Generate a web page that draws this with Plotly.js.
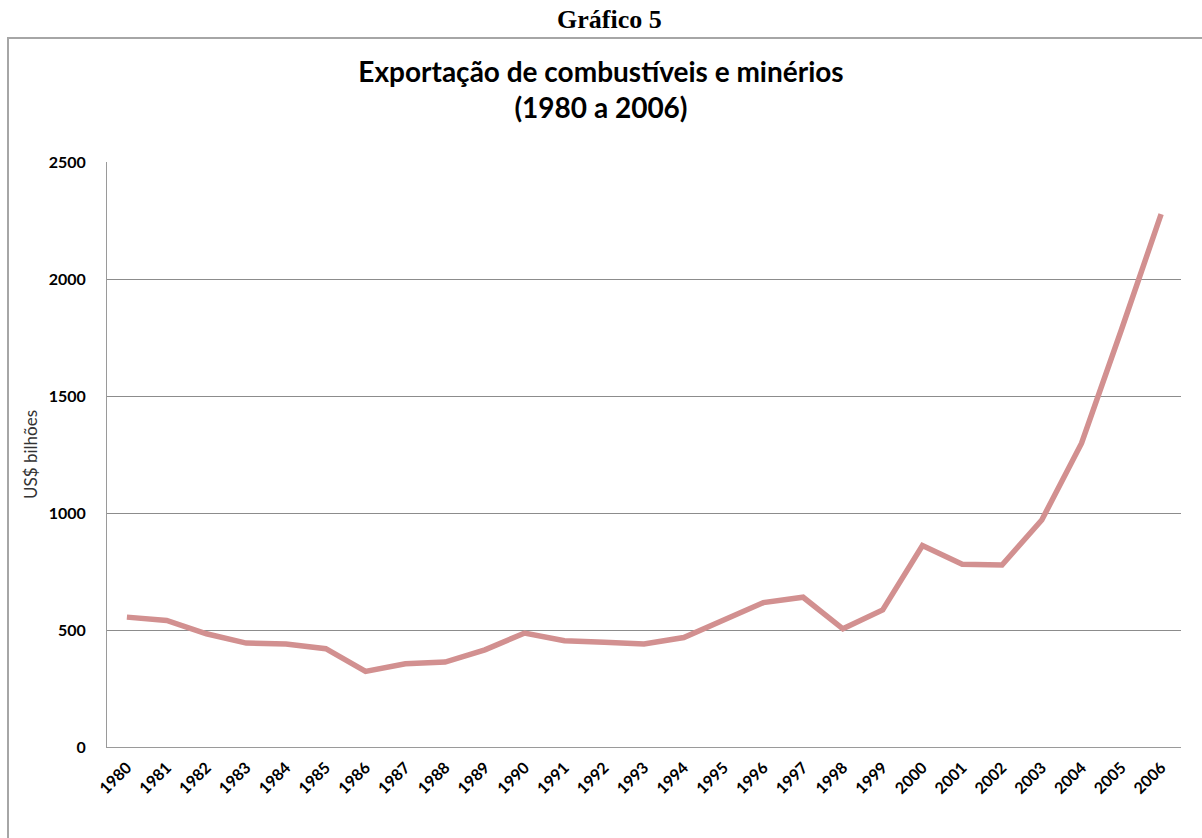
<!DOCTYPE html>
<html>
<head>
<meta charset="utf-8">
<script src="https://cdn.plot.ly/plotly-3.0.1.min.js"></script>
<style>
  html, body { margin: 0; padding: 0; background: #fff; }
  #chart { width: 1202px; height: 838px; }
</style>
</head>
<body>
<div id="chart"></div>
<script>
const years = ['1980','1981','1982','1983','1984','1985','1986','1987','1988','1989',
               '1990','1991','1992','1993','1994','1995','1996','1997','1998','1999',
               '2000','2001','2002','2003','2004','2005','2006'];
const exportsBn = [555, 541, 484, 444, 440, 420, 323, 356, 363, 415,
                   487, 454, 448, 440, 468, 543, 617, 640, 505, 586,
                   861, 781, 778, 970, 1298, 1782, 2277];
const yTicks = [0, 500, 1000, 1500, 2000, 2500];

const mainTitle = 'Exportação de combustíveis e minérios<br>(1980 a 2006)';
const header = 'Gráfico 5';
const yTitle = 'US$ bilhões';

const W = 1202, H = 838;
const mL = 107, mR = 21, mT = 162, mB = 91;
const pw = W - mL - mR, ph = H - mT - mB;
const px2x = p => (p - mL) / pw;
const py2y = p => (H - mB - p) / ph;

const font = 'Lato, "Open Sans", "DejaVu Sans", sans-serif';

const trace = {
  x: years,
  y: exportsBn,
  type: 'scatter',
  mode: 'lines',
  line: { color: 'rgb(210,144,144)', width: 5.5 },
  hoverinfo: 'x+y'
};

const layout = {
  width: W, height: H,
  margin: { l: mL, r: mR, t: mT, b: mB, pad: 0 },
  paper_bgcolor: '#fff',
  plot_bgcolor: '#fff',
  showlegend: false,
  title: {
    text: mainTitle,
    font: { family: font, size: 28, color: '#000', weight: 'bold' },
    x: 0.5, xanchor: 'center',
    y: 1 - 82 / H, yanchor: 'middle', yref: 'container'
  },
  xaxis: {
    type: 'category',
    range: [-0.5, years.length - 0.5],
    tickvals: years,
    ticktext: years,
    tickangle: -45,
    tickfont: { family: font, size: 16, color: '#000', weight: 'bold' },
    ticklabelstandoff: 4,
    showgrid: false,
    showline: true, linecolor: '#9a9a9a', linewidth: 1,
    ticks: '', zeroline: false,
    fixedrange: true
  },
  yaxis: {
    range: [0, 2500],
    tickvals: yTicks,
    ticktext: yTicks.map(String),
    tickfont: { family: font, size: 16, color: '#000', weight: 'bold' },
    ticks: '', ticklabelstandoff: 17,
    showgrid: true, gridcolor: '#8c8c8c', gridwidth: 1,
    showline: true, linecolor: '#9a9a9a', linewidth: 1,
    zeroline: false,
    automargin: false,
    title: { text: yTitle, font: { family: font, size: 17, color: '#333' }, standoff: 6 },
    fixedrange: true
  },
  shapes: [{
    type: 'rect', xref: 'paper', yref: 'paper',
    x0: px2x(8), x1: px2x(1203), y0: py2y(845), y1: py2y(38),
    line: { color: '#a6a6a6', width: 2 }, fillcolor: 'rgba(0,0,0,0)', layer: 'below'
  }],
  annotations: [{
    text: header, xref: 'paper', yref: 'paper',
    x: px2x(609), y: py2y(19), xanchor: 'center', yanchor: 'middle',
    showarrow: false,
    font: { family: '"Liberation Serif", "Times New Roman", serif', size: 26, color: '#000', weight: 'bold' }
  }]
};

Plotly.newPlot('chart', [trace], layout, { displayModeBar: false, staticPlot: false });
</script>
</body>
</html>
